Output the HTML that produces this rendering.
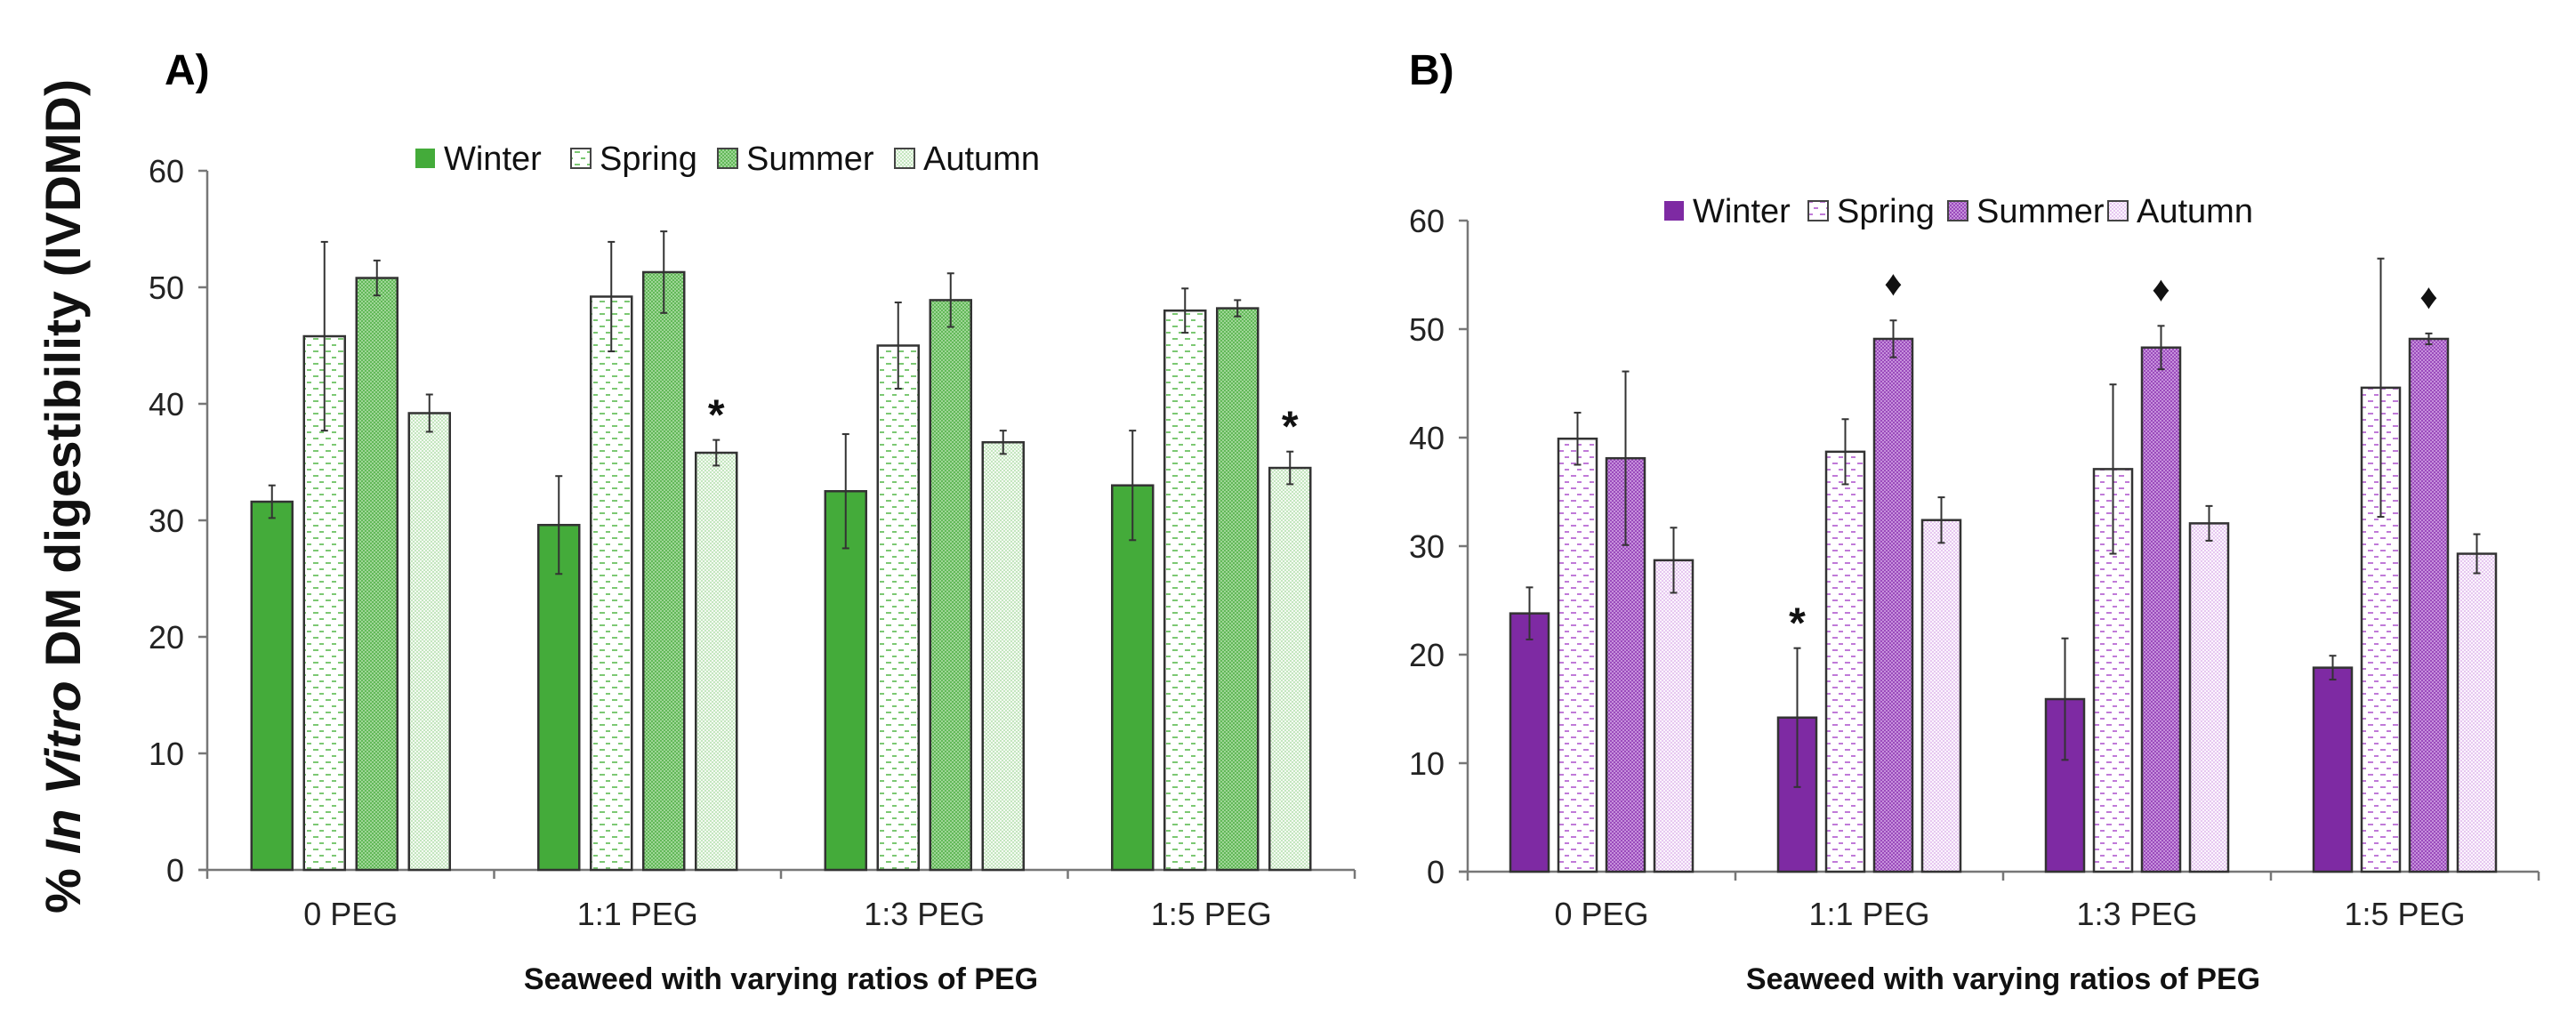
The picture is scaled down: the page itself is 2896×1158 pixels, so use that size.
<!DOCTYPE html>
<html><head><meta charset="utf-8"><style>
html,body{margin:0;padding:0;background:#fff;}
svg{display:block;font-family:"Liberation Sans",sans-serif;}
</style></head><body>
<svg id="chart" width="2896" height="1158" viewBox="0 0 2896 1158" xmlns="http://www.w3.org/2000/svg">
<defs>
<pattern id="gSpring" width="14" height="14" patternUnits="userSpaceOnUse"><rect width="14" height="14" fill="#fff"/><rect x="2" y="2" width="6" height="2" fill="#7cc873"/><rect x="9" y="9" width="5" height="2" fill="#7cc873"/></pattern>
<pattern id="gSummer" width="4" height="4" patternUnits="userSpaceOnUse"><rect width="4" height="4" fill="#62b858"/><rect width="2" height="2" fill="#9ed696"/><rect x="2" y="2" width="2" height="2" fill="#9ed696"/></pattern>
<pattern id="gAutumn" width="4" height="4" patternUnits="userSpaceOnUse"><rect width="4" height="4" fill="#f3faf1"/><rect width="2" height="2" fill="#c4e6bf"/><rect x="2" y="2" width="2" height="2" fill="#c4e6bf"/></pattern>
<pattern id="pSpring" width="14" height="14" patternUnits="userSpaceOnUse"><rect width="14" height="14" fill="#fff"/><rect x="2" y="2" width="6" height="2" fill="#c07ad8"/><rect x="9" y="9" width="5" height="2" fill="#c07ad8"/></pattern>
<pattern id="pSummer" width="4" height="4" patternUnits="userSpaceOnUse"><rect width="4" height="4" fill="#9a4bbb"/><rect width="2" height="2" fill="#c690dc"/><rect x="2" y="2" width="2" height="2" fill="#c690dc"/></pattern>
<pattern id="pAutumn" width="4" height="4" patternUnits="userSpaceOnUse"><rect width="4" height="4" fill="#fbf4fd"/><rect width="2" height="2" fill="#e6c8f0"/><rect x="2" y="2" width="2" height="2" fill="#e6c8f0"/></pattern>
</defs>
</svg>
<script>
const categories = ["0 PEG","1:1 PEG","1:3 PEG","1:5 PEG"];
const seasons = ["Winter","Spring","Summer","Autumn"];
const yTicks = [0,10,20,30,40,50,60];
// Panel A values
const aWinter = [31.6,29.6,32.5,33.0];
const aSpring = [45.8,49.2,45.0,48.0];
const aSummer = [50.8,51.3,48.9,48.2];
const aAutumn = [39.2,35.8,36.7,34.5];
const aWinterErr = [1.4,4.2,4.9,4.7];
const aSpringErr = [8.1,4.7,3.7,1.9];
const aSummerErr = [1.5,3.5,2.3,0.7];
const aAutumnErr = [1.6,1.1,1.0,1.4];
// Panel B values
const bWinter = [23.8,14.2,15.9,18.8];
const bSpring = [39.9,38.7,37.1,44.6];
const bSummer = [38.1,49.1,48.3,49.1];
const bAutumn = [28.7,32.4,32.1,29.3];
const bWinterErr = [2.4,6.4,5.6,1.1];
const bSpringErr = [2.4,3.0,7.8,11.9];
const bSummerErr = [8.0,1.7,2.0,0.5];
const bAutumnErr = [3.0,2.1,1.6,1.8];
// significance markers: [seriesIndex, categoryIndex, symbol]
const aMarks = [[3,1,"*"],[3,3,"*"]];
const bMarks = [[0,1,"*"],[2,1,"♦"],[2,2,"♦"],[2,3,"♦"]];

const NS="http://www.w3.org/2000/svg";
const svg=document.getElementById('chart');
function el(tag,attrs,parent){const e=document.createElementNS(NS,tag);for(const k in attrs)e.setAttribute(k,attrs[k]);(parent||svg).appendChild(e);return e;}

function panel(cfg){
  const g=el('g',{});
  
  
  const y=v=>cfg.y0-v*cfg.ppu;
  const catW=(cfg.x1-cfg.x0)/categories.length;
  const xc=(ci,si)=>cfg.x0+catW*(ci+0.5)+(si-1.5)*cfg.pitch;
  // axes
  const ax=el('line',{x1:cfg.x0,y1:y(60),x2:cfg.x0,y2:cfg.y0,stroke:'#777','stroke-width':2.5},g);
  
  const bx=el('line',{x1:cfg.x0-10,y1:cfg.y0,x2:cfg.x1,y2:cfg.y0,stroke:'#777','stroke-width':2.5},g);
  
  yTicks.forEach(t=>{
    el('line',{x1:cfg.x0-10,y1:y(t),x2:cfg.x0,y2:y(t),stroke:'#777','stroke-width':2.5},g);
    const tl=el('text',{x:cfg.x0-26,y:y(t)+13,'text-anchor':'end','font-size':36,fill:'#222'},g);
    tl.textContent=t;
    
  });
  for(let i=0;i<=categories.length;i++){
    el('line',{x1:cfg.x0+catW*i,y1:cfg.y0,x2:cfg.x0+catW*i,y2:cfg.y0+10,stroke:'#777','stroke-width':2.5},g);
  }
  categories.forEach((c,ci)=>{
    const t=el('text',{x:cfg.x0+catW*(ci+0.5),y:1040,'text-anchor':'middle','font-size':36,fill:'#222'},g);
    t.textContent=c;
    
  });
  cfg.series.forEach((vals,si)=>{
    vals.forEach((v,ci)=>{
      const cx=xc(ci,si);
      const r=el('rect',{x:cx-cfg.bw/2,y:y(v),width:cfg.bw,height:y(0)-y(v),fill:cfg.fills[si],stroke:'#333','stroke-width':2.5},g);
      
      
      const e=cfg.errs[si][ci];
      const eg=el('g',{stroke:'#333','stroke-width':2},g);
      
      el('line',{x1:cx,y1:y(v+e),x2:cx,y2:y(v-e)},eg);
      el('line',{x1:cx-4,y1:y(v+e),x2:cx+4,y2:y(v+e)},eg);
      el('line',{x1:cx-4,y1:y(v-e),x2:cx+4,y2:y(v-e)},eg);
    });
  });
  cfg.marks.forEach(m=>{
    const [si,ci,s]=m;
    const v=cfg.series[si][ci]+cfg.errs[si][ci];
    const cx=xc(ci,si);
    const t=el('text',{x:cx,y:y(v)-(s==="*"?12:28),'text-anchor':'middle','font-size':s==="*"?48:40,'font-weight':'bold',fill:'#111'},g);
    t.textContent=s;
    
  });
  // legend
  let lx=cfg.legX;
  seasons.forEach((s,si)=>{
    const lg=el('g',{},g);
    
    
    el('rect',{x:lx,y:cfg.legY-11,width:22,height:22,fill:cfg.fills[si],stroke:si==0?'none':'#444','stroke-width':2},lg);
    const t=el('text',{x:lx+32,y:cfg.legY+13,'font-size':38,fill:'#111'},lg);
    t.textContent=s;
    lx+=cfg.legGap[si];
  });
  const xt=el('text',{x:(cfg.x0+cfg.x1)/2,y:1112,'text-anchor':'middle','font-size':34,'font-weight':'bold',fill:'#111'},g);
  xt.textContent='Seaweed with varying ratios of PEG';
  
  const pl=el('text',{x:cfg.labX,y:95,'font-size':48,'font-weight':'bold',fill:'#000'},g);
  pl.textContent=cfg.label;
  
}

panel({name:'panel-a',label:'A)',labX:185,x0:233,x1:1523,y0:978,ppu:13.1,bw:46,pitch:59,
  series:[aWinter,aSpring,aSummer,aAutumn],errs:[aWinterErr,aSpringErr,aSummerErr,aAutumnErr],
  fills:['#44ab3a','url(#gSpring)','url(#gSummer)','url(#gAutumn)'],marks:aMarks,
  legX:467,legY:178,legGap:[175,165,199,200]});
panel({name:'panel-b',label:'B)',labX:1584,x0:1650,x1:2854,y0:980,ppu:12.2,bw:43,pitch:54,
  series:[bWinter,bSpring,bSummer,bAutumn],errs:[bWinterErr,bSpringErr,bSummerErr,bAutumnErr],
  fills:['#7e2aa3','url(#pSpring)','url(#pSummer)','url(#pAutumn)'],marks:bMarks,
  legX:1871,legY:237,legGap:[162,157,180,200]});

const yt=el('text',{transform:'translate(90,1027) rotate(-90)','font-size':56,'font-weight':'bold',fill:'#111',textLength:938,lengthAdjust:'spacingAndGlyphs'});


yt.innerHTML='% <tspan font-style="italic">In Vitro</tspan> DM digestibility (IVDMD)';
</script>
</body></html>
